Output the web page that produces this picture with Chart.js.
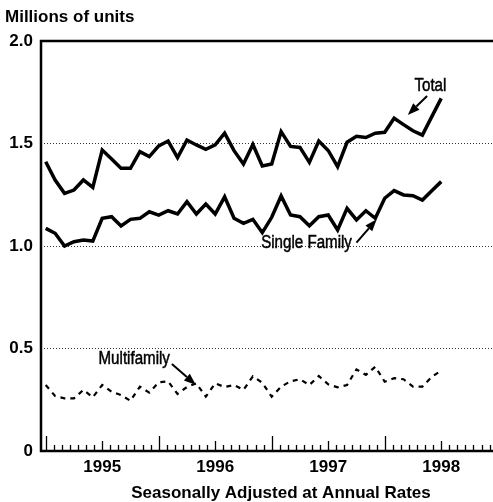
<!DOCTYPE html>
<html>
<head>
<meta charset="utf-8">
<script src="https://cdn.jsdelivr.net/npm/chart.js@4"></script>
<style>
  html, body { margin: 0; padding: 0; background: #fff; }
</style>
</head>
<body>
<canvas id="starts" width="493" height="502"></canvas>
<script>
// monthly housing starts, Jan 1995 .. Jul 1998, millions of units (SAAR)
var months = [
  "Jan 95","Feb 95","Mar 95","Apr 95","May 95","Jun 95","Jul 95","Aug 95","Sep 95","Oct 95","Nov 95","Dec 95",
  "Jan 96","Feb 96","Mar 96","Apr 96","May 96","Jun 96","Jul 96","Aug 96","Sep 96","Oct 96","Nov 96","Dec 96",
  "Jan 97","Feb 97","Mar 97","Apr 97","May 97","Jun 97","Jul 97","Aug 97","Sep 97","Oct 97","Nov 97","Dec 97",
  "Jan 98","Feb 98","Mar 98","Apr 98","May 98","Jun 98","Jul 98"
];
var total = [
  1.411, 1.322, 1.257, 1.273, 1.322, 1.286, 1.468, 1.424, 1.379, 1.379, 1.460, 1.436,
  1.488, 1.512, 1.431, 1.517, 1.493, 1.472, 1.493, 1.550, 1.465, 1.400, 1.495, 1.390,
  1.400, 1.558, 1.486, 1.481, 1.408, 1.512, 1.466, 1.387, 1.506, 1.535, 1.529, 1.550,
  1.555, 1.623, 1.592, 1.562, 1.541, 1.631, 1.720
];
var singleFamily = [
  1.086, 1.062, 1.000, 1.021, 1.029, 1.024, 1.135, 1.143, 1.098, 1.130, 1.135, 1.167,
  1.151, 1.172, 1.156, 1.216, 1.156, 1.205, 1.156, 1.240, 1.135, 1.111, 1.130, 1.065,
  1.140, 1.244, 1.151, 1.143, 1.099, 1.143, 1.151, 1.078, 1.184, 1.127, 1.172, 1.135,
  1.233, 1.270, 1.249, 1.245, 1.224, 1.270, 1.314
];
var multifamily = [
  0.322, 0.268, 0.257, 0.257, 0.298, 0.262, 0.322, 0.289, 0.273, 0.245, 0.314, 0.285,
  0.335, 0.340, 0.278, 0.312, 0.330, 0.265, 0.330, 0.312, 0.322, 0.298, 0.364, 0.333,
  0.265, 0.314, 0.340, 0.350, 0.322, 0.366, 0.325, 0.311, 0.322, 0.398, 0.371, 0.411,
  0.338, 0.355, 0.350, 0.314, 0.314, 0.362, 0.392
];
var yearLabels = ["1995", "1996", "1997", "1998"];
var yearLabelAt = [6, 18, 30, 42];      // month index of each year label
var yTickLabels = ["0", "0.5", "1.0", "1.5", "2.0"];

// callouts, placed in data units (month index, millions)
var callouts = [
  { text: "Total",         at: [40.85, 1.78],  from: [40.5, 1.732],  to: [38.45, 1.639] },
  { text: "Single Family", at: [27.7, 1.015],  from: [33.0, 1.016],  to: [35.15, 1.13] },
  { text: "Multifamily",   at: [9.4, 0.449],   from: [13.4, 0.424],  to: [15.95, 0.322] }
];

function series(values) {
  return values.map(function (v, i) { return { x: i, y: v }; });
}

// narrow text, the original uses a condensed face
function squeezedText(ctx, text, x, y, sx) {
  ctx.save();
  ctx.translate(x, y);
  ctx.scale(sx, 1);
  ctx.fillText(text, 0, 0);
  ctx.lineWidth = 0.5;
  ctx.strokeText(text, 0, 0);
  ctx.restore();
}

var decor = {
  id: "decor",
  afterDraw: function (chart) {
    var ctx = chart.ctx, a = chart.chartArea;
    var xs = chart.scales.x, ys = chart.scales.y;
    ctx.save();

    // frame: left axis, bottom axis, top rule at 2.0
    ctx.strokeStyle = "#000";
    ctx.lineCap = "butt";
    ctx.lineWidth = 2.5;
    ctx.beginPath();
    ctx.moveTo(a.right, ys.getPixelForValue(2));
    ctx.lineTo(a.left, ys.getPixelForValue(2));
    ctx.lineTo(a.left, ys.getPixelForValue(0));
    ctx.lineTo(a.right, ys.getPixelForValue(0));
    ctx.stroke();

    // month ticks pointing up, taller every half year and at new year
    ctx.lineWidth = 1.3;
    var base = ys.getPixelForValue(0);
    for (var k = 0; k * 6 / 7 <= xs.max; k++) {
      var v = k * 6 / 7;
      var len = 6;
      if (k % 14 == 0) len = 15;
      else if (k % 7 == 0) len = 10;
      var px = Math.round(xs.getPixelForValue(v)) + 0.5;
      ctx.beginPath();
      ctx.moveTo(px, base);
      ctx.lineTo(px, base - len);
      ctx.stroke();
    }

    // titles
    ctx.fillStyle = "#000";
    ctx.font = "bold 17px 'Liberation Sans', Arial, sans-serif";
    ctx.textBaseline = "middle";
    ctx.textAlign = "left";
    ctx.fillText("Millions of units", 5, 17);
    ctx.textAlign = "center";
    ctx.fillText("Seasonally Adjusted at Annual Rates", 281, 493);

    // callouts
    ctx.font = "18px 'Liberation Sans', Arial, sans-serif";
    callouts.forEach(function (c) {
      squeezedText(ctx, c.text, xs.getPixelForValue(c.at[0]), ys.getPixelForValue(c.at[1]), 0.84);
      var x0 = xs.getPixelForValue(c.from[0]), y0 = ys.getPixelForValue(c.from[1]);
      var x1 = xs.getPixelForValue(c.to[0]), y1 = ys.getPixelForValue(c.to[1]);
      var ang = Math.atan2(y1 - y0, x1 - x0);
      var head = 12, half = 4.5;
      var bx = x1 - head * Math.cos(ang), by = y1 - head * Math.sin(ang);
      ctx.lineWidth = 2;
      ctx.beginPath();
      ctx.moveTo(x0, y0);
      ctx.lineTo(bx, by);
      ctx.stroke();
      ctx.beginPath();
      ctx.moveTo(x1, y1);
      ctx.lineTo(bx + half * Math.sin(ang), by - half * Math.cos(ang));
      ctx.lineTo(bx - half * Math.sin(ang), by + half * Math.cos(ang));
      ctx.closePath();
      ctx.fill();
    });

    ctx.restore();
  }
};

var chart = new Chart(document.getElementById("starts"), {
  type: "line",
  data: {
    labels: months,
    datasets: [
      {
        label: "Total",
        data: series(total),
        borderColor: "#000",
        borderWidth: 3.5,
        borderJoinStyle: "miter",
        pointRadius: 0,
        tension: 0,
      },
      {
        label: "Single Family",
        data: series(singleFamily),
        borderColor: "#000",
        borderWidth: 3.5,
        borderJoinStyle: "miter",
        pointRadius: 0,
        tension: 0,
      },
      {
        label: "Multifamily",
        data: series(multifamily),
        borderColor: "#000",
        borderWidth: 2.2,
        borderDash: [5, 5],
        pointRadius: 0,
        tension: 0,
      },
    ],
  },
  options: {
    responsive: false,
    animation: false,
    devicePixelRatio: 1,
    layout: { padding: { top: 41, left: 0, right: 0, bottom: 0 } },
    plugins: {
      legend: { display: false },
      tooltip: { enabled: false },
    },
    scales: {
      x: {
        type: "linear",
        min: -0.5,
        max: 47.5,
        grid: { display: false, drawTicks: false },
        border: { display: false },
        afterBuildTicks: function (s) {
          s.ticks = yearLabelAt.map(function (v) { return { value: v }; });
        },
        afterFit: function (s) { s.height = 51; },
        ticks: {
          autoSkip: false,
          maxRotation: 0,
          padding: 6,
          color: "#000",
          font: { family: "'Liberation Sans', Arial, sans-serif", size: 17, weight: "bold" },
          callback: function (v) { return yearLabels[yearLabelAt.indexOf(v)]; },
        },
      },
      y: {
        min: 0,
        max: 2,
        grid: {
          drawTicks: false,
          lineWidth: 1,
          color: function (c) {
            return (c.tick && (c.tick.value == 0 || c.tick.value == 2)) ? "rgba(0,0,0,0)" : "#333";
          },
        },
        border: { display: false, dash: [1, 2] },
        afterFit: function (s) { s.width = 41; },
        ticks: {
          stepSize: 0.5,
          padding: 8,
          color: "#000",
          font: { family: "'Liberation Sans', Arial, sans-serif", size: 17, weight: "bold" },
          callback: function (v) { return yTickLabels[Math.round(v * 2)]; },
        },
      },
    },
  },
  plugins: [decor],
});
</script>
</body>
</html>
